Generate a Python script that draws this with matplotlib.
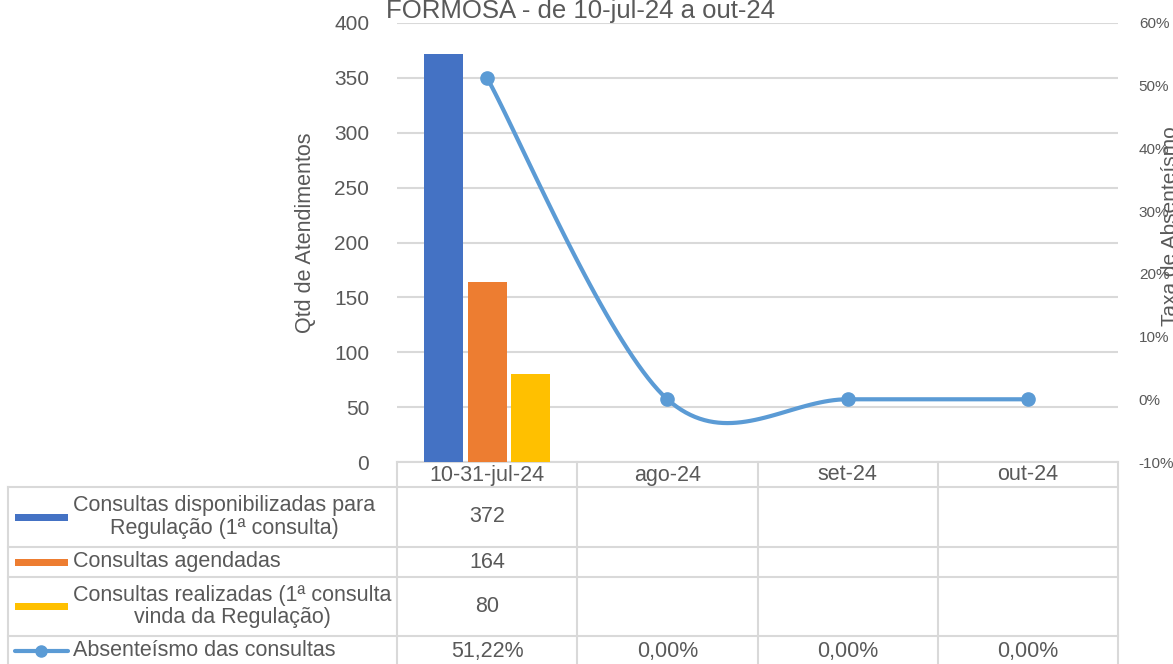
import matplotlib
matplotlib.use('Agg')
import matplotlib.pyplot as plt
import numpy as np

plt.rcParams['font.family'] = ['Liberation Sans', 'DejaVu Sans']

# dados
categorias = ['10-31-jul-24', 'ago-24', 'set-24', 'out-24']
disponibilizadas = [372, None, None, None]
agendadas = [164, None, None, None]
realizadas = [80, None, None, None]
absenteismo = [0.5122, 0.0, 0.0, 0.0]

nomes = ['Consultas disponibilizadas para\nRegulação (1ª consulta)',
         'Consultas agendadas',
         'Consultas realizadas (1ª consulta\nvinda da Regulação)',
         'Absenteísmo das consultas']
titulo = 'FORMOSA - de 10-jul-24 a out-24'

azul = '#4472C4'
laranja = '#ED7D31'
amarelo = '#FFC000'
linha = '#5B9BD5'
cinza_txt = '#595959'
cinza_grade = '#D9D9D9'

W, H = 1173, 664
fig = plt.figure(figsize=(W / 100, H / 100), dpi=100)

# area do grafico em pixels
x0, y0, x1, y1 = 397, 23, 1118, 462
ax = fig.add_axes([x0 / W, 1 - y1 / H, (x1 - x0) / W, (y1 - y0) / H])

n = len(categorias)
xs = np.arange(n)
larg = 0.216
off = 0.24
series = [disponibilizadas, agendadas, realizadas]
cores = [azul, laranja, amarelo]
for k, (s, c) in enumerate(zip(series, cores)):
    for i, v in enumerate(s):
        if v is not None:
            ax.bar(xs[i] + (k - 1) * off, v, width=larg, color=c, zorder=3)

ax.set_xlim(-0.5, n - 0.5)
ax.set_ylim(0, 400)
ax.set_yticks(range(0, 401, 50))
ax.grid(axis='y', color=cinza_grade, linewidth=1.5, zorder=0)
ax.set_xticks([])
for sp in ['left', 'right', 'top']:
    ax.spines[sp].set_visible(False)
ax.spines['bottom'].set_color(cinza_grade)
ax.spines['bottom'].set_linewidth(1.5)
ax.tick_params(axis='y', length=0, labelsize=15, labelcolor=cinza_txt, pad=20)

# eixo secundario
ax2 = ax.twinx()
ax2.set_ylim(-0.1, 0.6)
ax2.set_yticks(np.arange(-0.1, 0.61, 0.1))
ax2.set_yticklabels([f'{int(round(v * 100))}%' for v in np.arange(-0.1, 0.61, 0.1)])
ax2.tick_params(axis='y', length=0, labelsize=11, labelcolor=cinza_txt, pad=15)
for sp in ax2.spines.values():
    sp.set_visible(False)

# linha suavizada (bezier estilo Excel)
pts = np.column_stack([xs, absenteismo])
cx, cy = [], []
for i in range(n - 1):
    p0 = pts[max(i - 1, 0)]
    p1 = pts[i]
    p2 = pts[i + 1]
    p3 = pts[min(i + 2, n - 1)]
    c1 = p1 + (p2 - p0) / 6
    c2 = p2 - (p3 - p1) / 6
    t = np.linspace(0, 1, 40)[:, None]
    b = (1 - t) ** 3 * p1 + 3 * (1 - t) ** 2 * t * c1 + 3 * (1 - t) * t ** 2 * c2 + t ** 3 * p2
    cx.extend(b[:, 0])
    cy.extend(b[:, 1])
ax2.plot(cx, cy, color=linha, linewidth=3, solid_capstyle='round', zorder=4)
ax2.plot(xs, absenteismo, 'o', color=linha, markersize=9.5, zorder=5)

fig.text(580 / W, 1 - 18 / H, titulo, ha='center', va='baseline', fontsize=18.5, color=cinza_txt)
fig.text(305 / W, 1 - 233 / H, 'Qtd de Atendimentos', rotation=90, ha='center', va='center',
         fontsize=15.5, color=cinza_txt)
fig.text(1171 / W, 1 - 226 / H, 'Taxa de Absenteísmo', rotation=90, ha='center', va='center',
         fontsize=15, color=cinza_txt)

# tabela de dados
tab = fig.add_axes([0, 0, 1, 1], facecolor='none')
tab.set_xlim(0, W)
tab.set_ylim(H, 0)
tab.axis('off')

bordas_x = [x0 + (x1 - x0) * i / n for i in range(n + 1)]
linhas_y = [487, 547, 577, 636, 668]
lw = 1.5
for xb in bordas_x:
    tab.plot([xb, xb], [y1, 668], color=cinza_grade, lw=lw)
tab.plot([8, 8], [487, 668], color=cinza_grade, lw=lw)
for yb in linhas_y:
    tab.plot([8, x1], [yb, yb], color=cinza_grade, lw=lw)

for i, c in enumerate(categorias):
    tab.text((bordas_x[i] + bordas_x[i + 1]) / 2, 475, c, ha='center', va='center',
             fontsize=15.5, color=cinza_txt)

valores = [disponibilizadas, agendadas, realizadas,
           [f'{v * 100:.2f}%'.replace('.', ',') for v in absenteismo]]
for r in range(4):
    yc = (linhas_y[r] + linhas_y[r + 1]) / 2 if r < 3 else 651
    tab.text(73, yc, nomes[r], ha='left', va='center', multialignment='center',
             fontsize=15.5, color=cinza_txt, linespacing=1.1)
    if r < 3:
        tab.fill_between([15, 68], yc - 3.5, yc + 3.5, color=cores[r], lw=0)
    else:
        tab.plot([15, 68], [yc, yc], color=linha, lw=3, solid_capstyle='round')
        tab.plot([41], [yc], 'o', color=linha, markersize=8)
    for i, v in enumerate(valores[r]):
        if v is not None:
            tab.text((bordas_x[i] + bordas_x[i + 1]) / 2, yc, str(v), ha='center', va='center',
                     fontsize=15.5, color=cinza_txt)

fig.savefig('out.png', dpi=100)
